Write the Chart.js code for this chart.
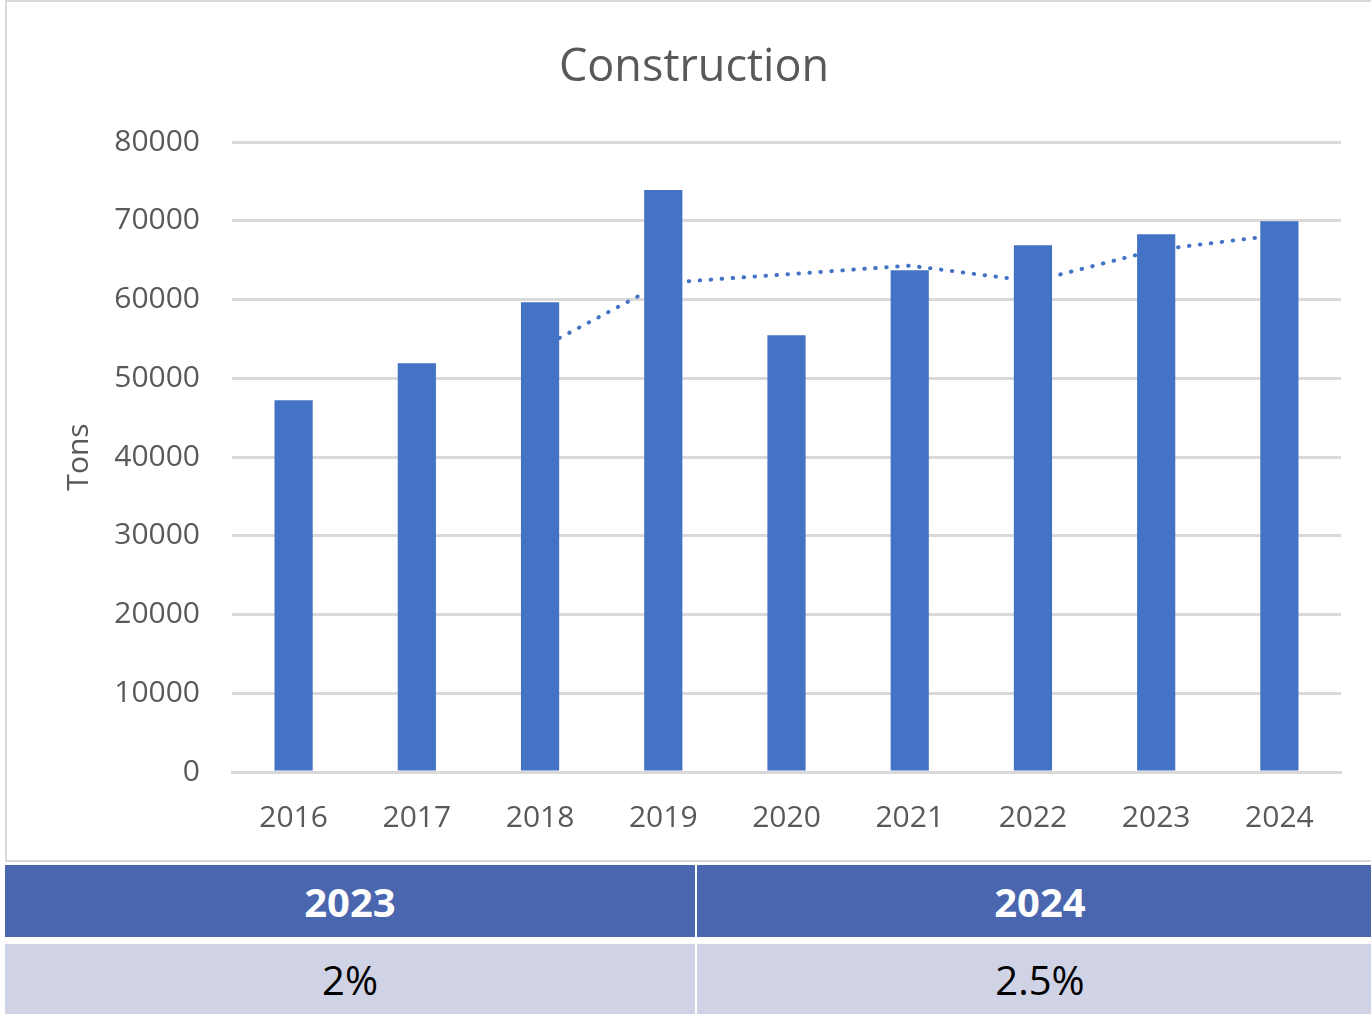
<!DOCTYPE html>
<html>
<head>
<meta charset="utf-8">
<script src="https://cdn.jsdelivr.net/npm/chart.js@4"></script>
<style>
  body { margin: 0; background: #fff; width: 1371px; height: 1014px; overflow: hidden; position: relative; font-family: "Open Sans", sans-serif; }
  #box { position: absolute; left: 5px; top: 0; width: 1370px; height: 862px; border: 2px solid #d9d9d9; box-sizing: border-box; background: #fff; }
  #box canvas { display: block; }
  .cell { position: absolute; display: flex; align-items: center; justify-content: center; font-size: 40px; }
  .head { background: #4a66ae; color: #fff; font-weight: bold; top: 865px; height: 72px; }
  .row { background: #cfd3e5; color: #000; top: 944px; height: 70px; }
</style>
</head>
<body>
<div id="box"><canvas id="myChart" width="1366" height="858"></canvas></div>
<div id="table"></div>
<script>
const years = ["2016", "2017", "2018", "2019", "2020", "2021", "2022", "2023", "2024"];
const tons = [47200, 51900, 59650, 73900, 55450, 63720, 66900, 68300, 69950];
const trend = [null, null, 53800, 62100, 63200, 64300, 62300, 66300, 68200];
const tableYears = ["2023", "2024"];
const tableRates = ["2%", "2.5%"];

const blue = "#4472c4";
const grey = "#595959";

// табличка под графиком
const table = document.getElementById("table");
const cols = [[5, 690], [697, 686]];
tableYears.forEach((y, i) => {
  const h = document.createElement("div");
  h.className = "cell head";
  h.style.left = cols[i][0] + "px";
  h.style.width = cols[i][1] + "px";
  h.textContent = y;
  table.appendChild(h);
  const r = document.createElement("div");
  r.className = "cell row";
  r.style.left = cols[i][0] + "px";
  r.style.width = cols[i][1] + "px";
  r.textContent = tableRates[i];
  table.appendChild(r);
});

const ctx = document.getElementById("myChart");

new Chart(ctx, {
  data: {
    labels: years,
    datasets: [
      {
        type: "bar",
        data: tons,
        backgroundColor: blue,
        barPercentage: 0.31,
        categoryPercentage: 1,
        order: 1,
      },
      {
        type: "line",
        data: trend,
        borderColor: blue,
        borderWidth: 4,
        borderDash: [0.5, 10.5],
        borderCapStyle: "round",
        pointRadius: 0,
        tension: 0,
        order: 2,
      },
    ],
  },
  options: {
    responsive: false,
    animation: false,
    layout: {
      padding: { left: 40, right: 32, top: 0, bottom: 4 },
    },
    plugins: {
      legend: { display: false },
      tooltip: { enabled: false },
      title: {
        display: true,
        text: "Construction",
        color: grey,
        font: { family: "Open Sans", size: 45, weight: "normal" },
        padding: { top: 39, bottom: 47 },
      },
    },
    scales: {
      x: {
        grid: { display: false },
        border: { color: "#d9d9d9", width: 3 },
        ticks: {
          color: grey,
          padding: 20,
          font: { family: "Open Sans", size: 30 },
        },
      },
      y: {
        min: 0,
        max: 80000,
        afterFit: (scale) => {
          scale.width = 185; // ширина оси Y
        },
        border: { display: false },
        grid: { color: "#d9d9d9", lineWidth: 3, drawTicks: false },
        title: {
          display: true,
          text: "Tons",
          color: grey,
          font: { family: "Open Sans", size: 30 },
          padding: { top: 14, bottom: 0 },
        },
        ticks: {
          stepSize: 10000,
          color: grey,
          padding: 32,
          font: { family: "Open Sans", size: 30 },
          callback: (value) => String(value), // без запятых
        },
      },
    },
  },
});
</script>
</body>
</html>
